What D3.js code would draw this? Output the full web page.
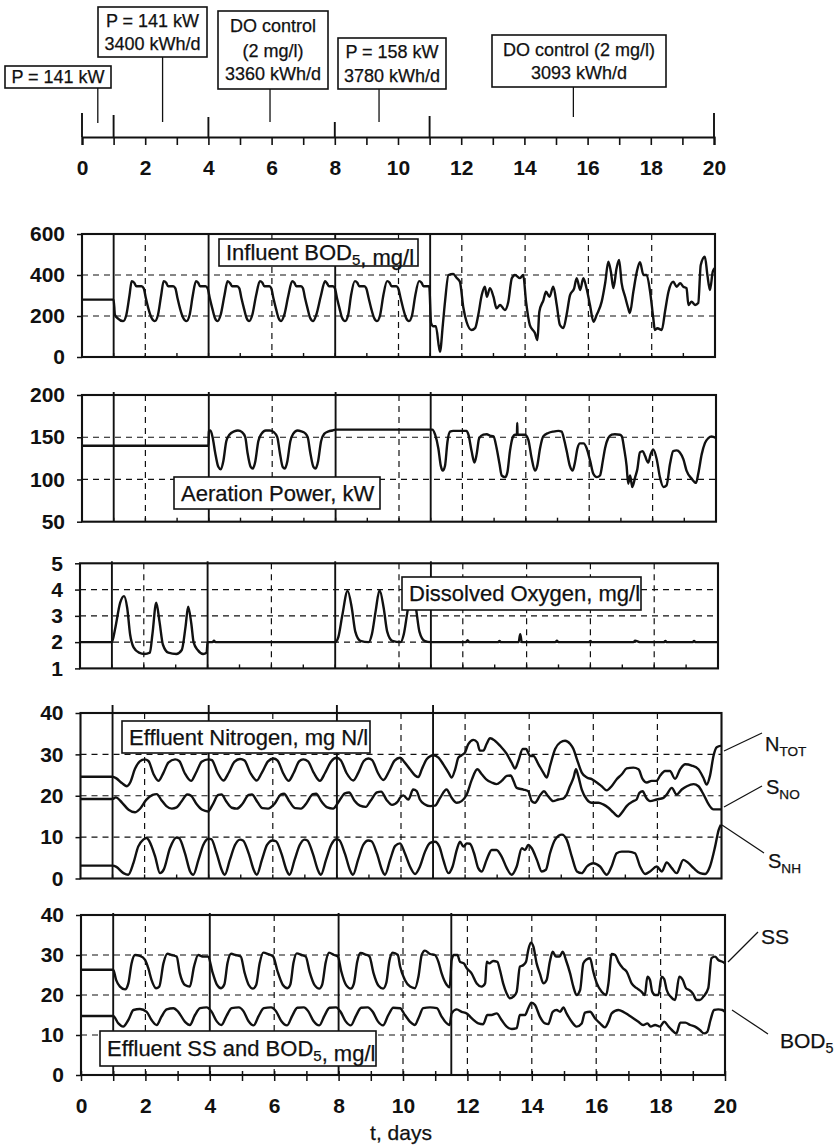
<!DOCTYPE html>
<html><head><meta charset="utf-8">
<script src="https://cdnjs.cloudflare.com/ajax/libs/d3/7.8.5/d3.min.js"></script>
<style>
body{margin:0;background:#fff;}
svg{display:block;}
text{font-family:"Liberation Sans",Arial,Helvetica,sans-serif;fill:#111;}
</style>
</head><body>
<svg id="chart" width="835" height="1145"></svg>
<script>
// ---------------- DATA ----------------
const xTickLabels = [0,2,4,6,8,10,12,14,16,18,20];
const dayTicks = [0,1,2,3,4,5,6,7,8,9,10,11,12,13,14,15,16,17,18,19,20];
const periodBounds = [0,1,4,8,11,20];

const annotations = [
  {t:0.5,  lines:["P = 141 kW"]},
  {t:2.55, lines:["P = 141 kW","3400 kWh/d"]},
  {t:5.95, lines:["DO control","(2 mg/l)","3360 kWh/d"]},
  {t:9.4,  lines:["P = 158 kW","3780 kWh/d"]},
  {t:15.55,lines:["DO control (2 mg/l)","3093 kWh/d"]}
];

const influentBOD = [[0,280],[1,280],[1.04,205],[1.12,190],[1.3,175],[1.4,205],[1.5,300],[1.57,370],[1.65,362],[1.72,345],[1.88,345],[1.95,335],
[2.02,285],[2.1,235],[2.2,190],[2.3,175],[2.4,205],[2.5,300],[2.58,370],[2.66,362],[2.72,345],[2.88,345],[2.95,335],
[3.02,285],[3.1,235],[3.2,190],[3.3,175],[3.4,205],[3.5,300],[3.6,370],[3.67,362],[3.73,345],[3.9,345],[3.97,335],
[4.04,285],[4.12,235],[4.2,190],[4.28,175],[4.38,205],[4.5,300],[4.6,370],[4.68,360],[4.74,345],[4.9,345],[4.97,335],
[5.04,285],[5.12,235],[5.2,190],[5.28,175],[5.38,205],[5.5,300],[5.62,370],[5.7,362],[5.76,345],[5.92,345],[5.98,335],
[6.05,285],[6.13,235],[6.21,190],[6.29,175],[6.39,205],[6.52,300],[6.64,370],[6.71,362],[6.77,345],[6.92,345],[6.98,335],
[7.05,285],[7.13,235],[7.21,190],[7.3,175],[7.4,205],[7.55,300],[7.68,370],[7.74,360],[7.8,345],[7.93,345],[7.99,335],
[8.06,285],[8.14,235],[8.22,190],[8.31,175],[8.41,205],[8.5,300],[8.62,370],[8.7,362],[8.76,345],[8.92,345],[8.98,335],
[9.06,285],[9.14,235],[9.23,190],[9.32,175],[9.42,205],[9.52,300],[9.64,370],[9.72,362],[9.78,345],[9.93,345],[9.99,335],
[10.07,285],[10.15,235],[10.24,190],[10.33,175],[10.43,205],[10.53,300],[10.65,370],[10.73,362],[10.79,345],[10.97,345],
[11.03,165],[11.1,150],[11.18,150],[11.31,25],[11.4,156],[11.47,270],[11.58,400],[11.73,405],[11.84,385],[11.94,367],[12.05,240],[12.15,172],[12.31,132],[12.42,141],[12.52,205],[12.63,302],[12.73,343],[12.79,294],[12.89,336],[13.0,294],[13.1,237],[13.21,254],[13.36,229],[13.47,270],[13.58,384],[13.68,400],[13.84,385],[13.94,400],[14.03,270],[14.15,156],[14.31,117],[14.39,83],[14.45,221],[14.58,278],[14.66,318],[14.77,294],[14.89,343],[15.0,254],[15.1,156],[15.21,141],[15.31,205],[15.42,302],[15.55,335],[15.63,385],[15.74,327],[15.84,384],[15.94,335],[16.05,254],[16.16,172],[16.26,205],[16.42,270],[16.53,361],[16.63,465],[16.71,416],[16.79,336],[16.89,433],[16.97,473],[17.05,360],[17.16,294],[17.26,237],[17.31,215],[17.42,318],[17.53,416],[17.63,462],[17.74,400],[17.84,400],[17.95,318],[18.05,189],[18.1,132],[18.18,140],[18.32,132],[18.42,221],[18.53,318],[18.68,367],[18.79,343],[18.9,360],[19.0,343],[19.1,336],[19.16,254],[19.26,270],[19.37,254],[19.47,263],[19.55,449],[19.68,489],[19.76,400],[19.84,327],[19.93,416],[20,434]];

const aerationPower = [[0,140],[3.99,140],[4.0,157],[4.05,158],[4.12,150],[4.2,132],[4.3,115],[4.38,112],[4.46,122],[4.55,145],[4.65,153],[4.8,157],[4.92,158],
[5.05,156],[5.15,150],[5.22,132],[5.32,115],[5.39,113],[5.47,122],[5.56,145],[5.66,154],[5.8,158],[5.92,158],
[6.05,156],[6.16,150],[6.24,132],[6.33,115],[6.4,113],[6.48,122],[6.57,145],[6.66,154],[6.8,158],[6.92,157],
[7.03,155],[7.12,150],[7.2,132],[7.3,115],[7.37,113],[7.45,122],[7.54,145],[7.64,154],[7.78,157],[7.9,158],[8.0,159],[11.05,159],
[11.14,153],[11.24,137],[11.32,116],[11.38,110.5],[11.45,116],[11.53,145],[11.61,156.7],[11.71,157.5],[12.13,157.5],[12.19,153],[12.29,133.6],[12.38,120],[12.45,130],[12.53,149],[12.66,153],[12.77,153.6],[12.87,152],[12.98,151],[13.08,137],[13.17,118.5],[13.24,104.7],[13.35,102.8],[13.42,108.6],[13.5,133.6],[13.58,149],[13.66,153],[13.72,153],[13.73,167],[13.74,153],[13.87,153],[13.97,153],[14.08,147],[14.18,126],[14.29,110.5],[14.36,116],[14.45,137],[14.55,151],[14.71,155],[14.87,156.7],[15.03,157.5],[15.13,156.7],[15.21,147],[15.29,133.6],[15.39,116],[15.48,110.5],[15.55,120],[15.63,137],[15.71,142.7],[15.82,142.7],[15.92,137],[16.03,122],[16.13,106.7],[16.24,102.8],[16.34,104.7],[16.43,122],[16.5,137],[16.6,149],[16.71,153],[16.81,153.6],[16.97,153],[17.03,151],[17.1,137],[17.18,116],[17.23,95],[17.29,104.7],[17.36,91],[17.45,102.8],[17.52,112.5],[17.6,132],[17.69,133.6],[17.76,128],[17.86,120],[17.94,130],[18.02,135.6],[18.13,124],[18.23,102.8],[18.34,91],[18.44,93],[18.55,118.5],[18.65,133.6],[18.76,134.4],[18.86,132],[18.97,124],[19.07,110.5],[19.23,101],[19.37,96],[19.44,106.7],[19.55,130],[19.65,143],[19.76,149],[19.86,151],[20,149]];

const dissolvedOxygen = [[0,2],[1,2],[1.1,2.5],[1.26,3.5],[1.38,3.75],[1.48,3.3],[1.57,2.3],[1.68,1.8],[1.85,1.6],[2.02,1.55],[2.19,1.6],[2.27,2.3],[2.39,3.5],[2.49,2.8],[2.6,1.9],[2.77,1.6],[3.02,1.55],[3.19,1.7],[3.31,2.6],[3.39,3.35],[3.49,2.7],[3.56,2.0],[3.69,1.7],[3.86,1.55],[3.97,1.6],[4.0,2.0],[4.15,2.0],[4.2,2.05],[4.25,2.0],[8.0,2.0],[8.1,2.2],[8.22,3.0],[8.39,3.95],[8.52,3.3],[8.63,2.4],[8.79,2.05],[9.05,2.0],[9.15,2.3],[9.27,3.2],[9.39,3.98],[9.52,3.3],[9.63,2.4],[9.79,2.05],[10.05,2.0],[10.15,2.3],[10.27,3.2],[10.4,4.0],[10.53,3.3],[10.64,2.4],[10.8,2.05],[11.0,2.0],[12.1,2.0],[12.15,2.07],[12.2,2.0],[13.1,2.0],[13.15,2.04],[13.2,2.0],[13.75,2.0],[13.8,2.3],[13.85,2.0],[14.9,2.0],[14.95,2.05],[15.0,2.0],[15.95,2.0],[16.0,2.04],[16.05,2.0],[17.35,2.0],[17.4,2.05],[17.5,2.02],[17.55,2.0],[18.3,2.0],[18.35,2.04],[18.4,2.0],[19.2,2.0],[19.25,2.04],[19.3,2.0],[20,2.0]];

const nTot = [[0,24.6],[1,24.6],[1.12,24.2],[1.3,23],[1.45,22.3],[1.55,23.2],[1.7,26.5],[1.85,28.3],[2.0,28.8],[2.12,28.4],[2.28,25.2],[2.43,23.6],[2.59,25.6],[2.74,28.0],[2.95,28.8],[3.08,28.4],[3.25,25.5],[3.45,23.6],[3.6,25.5],[3.78,28.2],[3.99,28.8],[4.1,28.6],[4.28,25.5],[4.46,23.7],[4.62,25.5],[4.8,28.2],[4.98,28.9],[5.12,28.5],[5.3,25.5],[5.5,23.7],[5.66,25.6],[5.85,28.3],[6.02,29.0],[6.15,28.5],[6.32,25.5],[6.49,23.6],[6.65,25.5],[6.82,28.3],[6.95,28.8],[7.1,28.3],[7.28,25.5],[7.47,23.6],[7.63,25.5],[7.82,28.3],[7.99,29.2],[8.12,28.6],[8.3,25.5],[8.51,23.7],[8.67,25.6],[8.84,28.4],[8.98,29.0],[9.1,28.6],[9.28,25.5],[9.45,23.8],[9.62,25.8],[9.8,28.5],[9.97,29.2],[10.12,28.0],[10.28,26.4],[10.44,24.9],[10.54,24.5],[10.65,26.4],[10.8,28.8],[11.01,29.8],[11.17,29.2],[11.32,27.6],[11.48,25.6],[11.58,24.4],[11.69,26.4],[11.79,29.2],[11.89,29.8],[12.0,30.5],[12.1,32.5],[12.26,33.5],[12.38,32.9],[12.46,30.9],[12.57,30.9],[12.67,32.5],[12.78,33.9],[12.93,33.3],[13.09,32.1],[13.3,30.1],[13.45,28.0],[13.56,26.6],[13.66,28.4],[13.8,31.3],[13.9,31.3],[14.03,29.6],[14.13,29.6],[14.29,27.6],[14.44,25.6],[14.55,24.4],[14.65,27.2],[14.81,31.3],[14.97,32.9],[15.12,33.3],[15.28,32.5],[15.38,31.3],[15.49,28.8],[15.64,25.6],[15.8,24.4],[15.95,24.0],[16.11,23.2],[16.26,22.3],[16.42,21.3],[16.57,22.3],[16.73,24.0],[16.89,25.2],[17.04,26.6],[17.25,26.8],[17.41,26.4],[17.54,24.0],[17.67,23.2],[17.82,23.6],[17.98,23.6],[18.08,24.8],[18.24,26.0],[18.39,26.0],[18.55,24.1],[18.71,26.4],[18.87,27.6],[19.07,27.3],[19.28,26.4],[19.43,24.4],[19.54,22.7],[19.64,24.8],[19.75,29.6],[19.85,31.7],[20,32.1]];

const sNO = [[0,19.2],[1.0,19.2],[1.1,19.6],[1.3,18.3],[1.5,16.6],[1.7,16.0],[1.85,16.8],[2.05,19.0],[2.25,20.2],[2.38,20.4],[2.52,19.0],[2.68,17.5],[2.85,16.9],[3.0,17.2],[3.15,18.6],[3.33,20.3],[3.45,20.0],[3.62,18.0],[3.8,16.6],[3.98,16.2],[4.12,17.8],[4.3,20.2],[4.4,20.3],[4.55,18.6],[4.72,17.1],[4.88,16.9],[5.05,18.0],[5.25,20.2],[5.35,20.3],[5.52,18.5],[5.68,17.0],[5.85,16.9],[6.05,18.0],[6.25,20.3],[6.35,20.5],[6.52,18.6],[6.7,17.0],[6.88,16.9],[7.05,18.2],[7.25,20.4],[7.35,20.5],[7.52,18.6],[7.7,17.2],[7.88,16.9],[8.05,18.5],[8.25,20.6],[8.38,20.8],[8.55,18.8],[8.72,17.6],[8.9,17.3],[9.05,18.8],[9.25,20.8],[9.38,21.0],[9.55,19.0],[9.72,17.8],[9.9,18.6],[9.97,19.5],[10.07,20.1],[10.23,19.1],[10.38,21.5],[10.49,21.1],[10.59,19.1],[10.75,17.9],[10.91,17.5],[11.06,17.6],[11.22,19.5],[11.42,21.5],[11.58,19.5],[11.74,18.3],[11.89,18.7],[12.05,20.3],[12.21,23.9],[12.38,26.4],[12.52,25.2],[12.67,23.9],[12.83,23.2],[12.98,22.8],[13.14,23.6],[13.3,24.8],[13.42,24.9],[13.51,23.6],[13.61,21.9],[13.82,21.5],[13.97,21.1],[14.08,18.7],[14.18,18.3],[14.34,20.1],[14.46,21.1],[14.59,19.9],[14.75,18.7],[14.91,19.1],[15.06,19.3],[15.17,20.3],[15.27,22.3],[15.38,24.3],[15.46,26.4],[15.53,24.8],[15.64,21.5],[15.8,19.1],[15.95,18.3],[16.16,18.3],[16.31,17.9],[16.47,17.1],[16.63,15.9],[16.78,15.0],[16.89,15.9],[17.04,17.5],[17.25,18.7],[17.35,19.1],[17.44,20.7],[17.54,21.1],[17.65,19.5],[17.77,18.7],[17.98,19.1],[18.19,19.5],[18.29,20.3],[18.45,21.9],[18.6,20.3],[18.76,21.5],[18.92,22.3],[19.13,22.8],[19.28,22.3],[19.44,20.3],[19.6,17.9],[19.75,16.7],[20,16.7]];

const sNH = [[0,3.1],[1,3.1],[1.12,2.8],[1.34,1.3],[1.49,0.9],[1.65,3.7],[1.8,7.7],[1.96,9.4],[2.06,9.8],[2.15,9.0],[2.33,5.3],[2.48,1.3],[2.6,2.2],[2.79,7.3],[3.0,9.9],[3.08,9.7],[3.26,6.1],[3.42,1.7],[3.52,0.9],[3.68,4.5],[3.83,8.1],[3.99,9.6],[4.08,9.5],[4.25,6.0],[4.42,1.8],[4.5,0.9],[4.66,4.5],[4.82,8.1],[4.98,9.4],[5.07,9.2],[5.25,6.0],[5.42,1.8],[5.5,0.9],[5.66,4.5],[5.82,8.1],[5.99,9.2],[6.1,9.0],[6.27,6.0],[6.44,1.8],[6.52,0.9],[6.68,4.5],[6.84,8.1],[6.99,9.4],[7.08,9.2],[7.25,6.0],[7.42,1.8],[7.5,0.9],[7.66,4.5],[7.82,8.1],[7.98,9.5],[8.07,9.3],[8.25,6.0],[8.42,1.8],[8.5,0.9],[8.66,4.5],[8.82,8.1],[8.98,9.2],[9.08,9.0],[9.25,6.0],[9.42,1.8],[9.5,0.9],[9.66,4.5],[9.82,7.9],[9.97,8.5],[10.12,6.1],[10.28,2.9],[10.44,1.1],[10.59,2.9],[10.75,6.5],[10.91,8.6],[11.06,8.9],[11.2,7.7],[11.32,4.5],[11.48,1.3],[11.61,2.9],[11.74,6.9],[11.84,8.9],[11.95,7.7],[12.05,8.5],[12.15,8.4],[12.28,6.1],[12.41,2.5],[12.52,1.7],[12.67,4.5],[12.83,6.9],[12.98,6.9],[13.14,5.3],[13.3,2.5],[13.45,0.9],[13.61,2.9],[13.77,7.3],[13.87,6.9],[13.97,8.1],[14.08,7.3],[14.24,4.5],[14.39,1.7],[14.52,2.1],[14.65,6.1],[14.81,9.4],[15.02,10.6],[15.17,9.4],[15.33,5.3],[15.49,1.7],[15.64,1.3],[15.8,2.9],[16.0,3.7],[16.21,2.9],[16.42,0.9],[16.57,2.9],[16.73,6.1],[16.89,6.5],[17.1,6.5],[17.3,6.1],[17.46,2.9],[17.62,1.1],[17.77,1.7],[17.98,2.9],[18.14,1.7],[18.29,3.9],[18.45,2.5],[18.6,1.3],[18.81,4.5],[18.97,3.7],[19.13,2.5],[19.33,1.3],[19.49,1.1],[19.64,2.9],[19.8,7.7],[19.91,11.7],[19.98,13.0]];

const effluentSS = [[0,26.3],[1.0,26.3],[1.09,23.8],[1.21,22.1],[1.37,21.4],[1.47,22.9],[1.57,27.9],[1.68,30.0],[1.83,29.8],[1.99,28.8],[2.09,26.7],[2.19,23.8],[2.33,21.7],[2.43,22.1],[2.56,27.9],[2.68,30.3],[2.82,30.0],[2.97,29.6],[3.07,25.4],[3.23,22.5],[3.38,22.1],[3.51,27.1],[3.64,30.0],[3.8,29.6],[3.95,29.6],[4.08,25.8],[4.22,22.6],[4.35,21.7],[4.45,22.6],[4.55,28.0],[4.66,30.3],[4.8,30.0],[4.96,29.6],[5.08,25.6],[5.21,22.5],[5.34,21.6],[5.44,22.5],[5.55,28.0],[5.66,30.6],[5.82,30.2],[5.97,29.6],[6.1,26.0],[6.27,22.5],[6.41,21.7],[6.5,22.6],[6.6,28.1],[6.7,30.4],[6.85,30.0],[6.98,29.6],[7.1,25.8],[7.26,22.4],[7.4,21.6],[7.49,22.6],[7.6,28.2],[7.7,30.6],[7.86,30.0],[7.98,29.6],[8.08,26.0],[8.24,22.4],[8.38,21.6],[8.47,22.7],[8.58,28.4],[8.68,30.5],[8.84,30.1],[8.96,29.6],[9.08,25.6],[9.24,22.3],[9.38,21.6],[9.48,23.0],[9.58,28.6],[9.68,30.6],[9.84,30.0],[9.91,27.1],[10.06,23.75],[10.22,22.1],[10.37,21.7],[10.48,24.6],[10.58,30.0],[10.68,31.1],[10.84,30.25],[10.99,30.0],[11.1,28.3],[11.2,25.4],[11.36,22.5],[11.45,21.9],[11.51,28.75],[11.58,30.0],[11.69,30.0],[11.77,28.3],[11.89,27.9],[11.98,26.7],[12.13,25.4],[12.29,22.9],[12.44,22.1],[12.55,22.9],[12.6,28.3],[12.68,27.9],[12.8,28.5],[12.93,28.3],[13.01,26.25],[13.11,22.9],[13.22,20.4],[13.32,19.2],[13.43,19.6],[13.53,20.8],[13.63,27.1],[13.74,27.5],[13.82,28.3],[13.89,31.25],[13.97,33.1],[14.05,32.1],[14.15,27.9],[14.25,25.4],[14.36,22.9],[14.46,23.75],[14.56,28.3],[14.65,30.8],[14.75,29.6],[14.86,29.6],[14.96,30.8],[15.06,28.75],[15.19,25.4],[15.29,22.1],[15.39,20.0],[15.5,21.25],[15.6,27.9],[15.7,28.9],[15.81,29.2],[15.91,25.8],[16.02,22.9],[16.17,20.8],[16.31,20.0],[16.38,22.9],[16.48,30.25],[16.59,30.0],[16.69,28.3],[16.83,26.7],[16.95,25.8],[17.1,22.9],[17.26,21.7],[17.41,20.8],[17.51,20.0],[17.59,24.6],[17.67,23.75],[17.74,20.8],[17.83,20.0],[17.93,20.0],[18.03,24.6],[18.11,24.0],[18.19,21.25],[18.31,19.6],[18.45,18.75],[18.58,24.6],[18.69,23.75],[18.79,21.7],[18.89,21.25],[19.0,20.4],[19.12,18.75],[19.22,18.75],[19.33,19.6],[19.48,21.7],[19.58,29.2],[19.69,29.6],[19.79,28.75],[19.92,28.3],[20,27.9]];

const effluentBOD = [[0,14.75],[1.0,14.75],[1.16,12.9],[1.31,12.1],[1.47,13.75],[1.63,16.25],[1.83,16.5],[2.04,15.8],[2.19,13.75],[2.35,12.5],[2.5,14.6],[2.66,16.4],[2.87,16.7],[3.02,15.8],[3.23,13.3],[3.38,12.5],[3.54,15.0],[3.7,16.7],[3.9,16.9],[4.05,15.9],[4.2,13.6],[4.36,12.5],[4.52,14.8],[4.68,16.7],[4.9,16.9],[5.05,15.9],[5.2,13.5],[5.36,12.4],[5.52,14.8],[5.68,16.7],[5.9,16.9],[6.06,15.9],[6.22,13.5],[6.4,12.4],[6.56,14.8],[6.72,16.8],[6.92,16.9],[7.06,15.9],[7.22,13.5],[7.4,12.4],[7.56,14.8],[7.72,16.8],[7.92,16.9],[8.06,15.8],[8.22,13.4],[8.38,12.4],[8.54,14.8],[8.7,16.8],[8.9,16.9],[9.06,15.8],[9.22,13.4],[9.38,12.4],[9.54,14.9],[9.7,16.8],[9.91,16.7],[10.06,15.0],[10.22,13.3],[10.37,12.5],[10.48,14.2],[10.63,16.7],[10.84,16.9],[11.05,16.7],[11.2,14.6],[11.36,12.9],[11.45,12.5],[11.51,15.4],[11.67,16.4],[11.82,15.8],[11.98,15.4],[12.13,14.2],[12.34,12.9],[12.49,12.7],[12.62,15.0],[12.75,15.0],[12.91,15.4],[13.06,13.75],[13.22,12.1],[13.38,11.5],[13.53,11.7],[13.63,15.0],[13.79,15.0],[13.89,16.7],[13.99,18.1],[14.1,17.5],[14.25,14.6],[14.41,12.9],[14.51,12.75],[14.65,15.8],[14.77,16.25],[14.88,15.8],[14.98,16.9],[15.08,15.4],[15.24,13.3],[15.39,12.1],[15.55,12.9],[15.65,15.6],[15.81,15.8],[15.96,14.2],[16.12,12.9],[16.27,11.9],[16.38,13.3],[16.48,15.4],[16.69,16.25],[16.84,15.8],[17.0,15.0],[17.15,14.2],[17.31,13.3],[17.46,12.5],[17.59,12.9],[17.69,12.1],[17.83,12.5],[17.98,12.1],[18.11,13.3],[18.25,12.1],[18.35,11.25],[18.49,10.4],[18.61,13.1],[18.77,13.1],[18.92,12.5],[19.07,12.1],[19.22,11.25],[19.35,10.4],[19.45,10.8],[19.55,13.75],[19.66,16.25],[19.79,16.4],[19.92,16.25],[20,15.8]];

// ---------------- DRAWING ----------------
const svg = d3.select("#chart");
svg.append("rect").attr("width",835).attr("height",1145).attr("fill","#fff");
const INK = "#111";
const LBL_FONT = "'Liberation Sans',Arial,sans-serif";

// Top timeline
(function(){
  const x = d3.scaleLinear().domain([0,20]).range([82,714]);
  const yAx = 137;
  const g = svg.append("g");
  const ax = g.append("g").attr("transform",`translate(0,${yAx})`)
    .call(d3.axisBottom(x).tickValues(dayTicks).tickSize(8).tickPadding(15)
      .tickFormat(d => xTickLabels.includes(d) ? d : ""));
  ax.select(".domain").attr("stroke",INK).attr("stroke-width",2.2);
  ax.selectAll(".tick line").attr("stroke",INK).attr("stroke-width",1.6);
  ax.selectAll(".tick text").attr("font-size",21).attr("font-weight","bold")
    .attr("font-family",LBL_FONT).attr("fill",INK);
  const boundTop = {0:113,1:115,4:117,8:122,11:116,20:113};
  g.selectAll("line.bound").data(periodBounds).join("line")
    .attr("x1",d=>x(d)).attr("x2",d=>x(d)).attr("y1",d=>boundTop[d]).attr("y2",yAx)
    .attr("stroke",INK).attr("stroke-width",1.9);
  const boxes = [
    {x:5,y:66,w:106,h:22,base:[83],end:123},
    {x:98,y:7,w:109,h:50,base:[27,50],end:122},
    {x:218,y:11,w:110,h:78,base:[32,57,80],end:122},
    {x:338,y:38,w:108,h:51,base:[58,82],end:122},
    {x:492,y:35,w:174,h:52,base:[56,79],end:117}
  ];
  annotations.forEach((a,i)=>{
    const b = boxes[i];
    g.append("line").attr("x1",x(a.t)).attr("x2",x(a.t)).attr("y1",b.y+b.h).attr("y2",b.end)
      .attr("stroke",INK).attr("stroke-width",1.3);
    g.append("rect").attr("x",b.x).attr("y",b.y).attr("width",b.w).attr("height",b.h)
      .attr("fill","#fff").attr("stroke",INK).attr("stroke-width",1.6);
    a.lines.forEach((ln,j)=>{
      g.append("text").attr("x",b.x+b.w/2).attr("y",b.base[j]).attr("text-anchor","middle")
        .attr("font-size",18).attr("stroke",INK).attr("stroke-width",0.25).text(ln);
    });
  });
})();

function addTitle(g, p){
  const b = p.box;
  g.append("rect").attr("x",b.x).attr("y",b.y).attr("width",b.w).attr("height",b.h)
    .attr("fill","#fff").attr("stroke",INK).attr("stroke-width",1.6);
  const t = g.append("text").attr("x",b.x+7).attr("y",b.base).attr("font-size",22)
    .attr("stroke",INK).attr("stroke-width",0.25);
  p.title.forEach(seg=>{
    if(seg.sub){ t.append("tspan").attr("font-size",15).attr("dy",5).text(seg.s);
                 t.append("tspan").attr("font-size",22).attr("dy",-5).text(""); }
    else t.append("tspan").text(seg.s);
  });
}

function drawPanel(p){
  const x = d3.scaleLinear().domain([0,20]).range([p.x0,p.x1]);
  const y = d3.scaleLinear().domain(p.dom).range([p.yb,p.yt]);
  const g = svg.append("g");
  const dash = "6,5";
  g.selectAll("line.hg").data(p.ticks.filter(v=>v>p.dom[0]&&v<p.dom[1])).join("line")
    .attr("x1",p.x0).attr("x2",p.x1).attr("y1",d=>y(d)).attr("y2",d=>y(d))
    .attr("stroke",INK).attr("stroke-width",1.2).attr("stroke-dasharray",dash);
  const vd = xTickLabels.filter(d=>d>0&&d<20&&!p.solids.includes(d));
  g.selectAll("line.vg").data(vd).join("line")
    .attr("x1",d=>x(d)).attr("x2",d=>x(d)).attr("y1",p.yt).attr("y2",p.yb)
    .attr("stroke",INK).attr("stroke-width",1.2).attr("stroke-dasharray",dash);
  const line = d3.line().x(d=>x(d[0])).y(d=>y(d[1])).curve(d3.curveMonotoneX);
  p.series.forEach(s=>{
    g.append("path").datum(s).attr("d",line).attr("fill","none")
      .attr("stroke",INK).attr("stroke-width",2.4).attr("stroke-linejoin","round");
  });
  g.selectAll("line.sv").data(p.solids).join("line")
    .attr("x1",d=>x(d)).attr("x2",d=>x(d)).attr("y1",p.yt-(p.ext||0)).attr("y2",p.yb)
    .attr("stroke",INK).attr("stroke-width",1.9);
  if(!p.xLabels){
    g.selectAll("line.dt").data(dayTicks.filter(d=>d>0&&d<20)).join("line")
      .attr("x1",d=>x(d)).attr("x2",d=>x(d)).attr("y1",p.yb-4).attr("y2",p.yb)
      .attr("stroke",INK).attr("stroke-width",1.4);
  } else {
    const ax = g.append("g").attr("transform",`translate(0,${p.yb})`)
      .call(d3.axisBottom(x).tickValues(dayTicks).tickSize(6).tickPadding(17)
        .tickFormat(d => xTickLabels.includes(d) ? d : ""));
    ax.select(".domain").remove();
    ax.selectAll(".tick line").attr("stroke",INK).attr("stroke-width",1.5).attr("y1",-4);
    ax.selectAll(".tick text").attr("font-size",21).attr("font-weight","bold")
      .attr("font-family",LBL_FONT).attr("fill",INK);
  }
  g.append("rect").attr("x",p.x0).attr("y",p.yt).attr("width",p.x1-p.x0).attr("height",p.yb-p.yt)
    .attr("fill","none").attr("stroke",INK).attr("stroke-width",2.1);
  const ay = g.append("g").attr("transform",`translate(${p.x0},0)`)
    .call(d3.axisLeft(y).tickValues(p.ticks).tickSize(5).tickPadding(12).tickFormat(d3.format("d")));
  ay.select(".domain").remove();
  ay.selectAll(".tick line").attr("stroke",INK).attr("stroke-width",1.5);
  ay.selectAll(".tick text").attr("font-size",21).attr("font-weight","bold")
    .attr("font-family",LBL_FONT).attr("fill",INK);
  addTitle(g,p);
  return {x,y,g};
}

drawPanel({x0:82,x1:715,yt:234,yb:357,dom:[0,600],ticks:[0,200,400,600],solids:[1,4,8,11],
  series:[influentBOD], box:{x:219,y:239,w:199,h:27,base:260},
  title:[{s:"Influent BOD"},{s:"5",sub:true},{s:", mg/l"}]});
drawPanel({x0:82,x1:716,yt:395,yb:521.7,dom:[50,200],ticks:[50,100,150,200],solids:[1,4,8,11],ext:3,
  series:[aerationPower], box:{x:174,y:477,w:206,h:32,base:501},
  title:[{s:"Aeration Power, kW"}]});
drawPanel({x0:80,x1:718,yt:563.3,yb:668.4,dom:[1,5],ticks:[1,2,3,4,5],solids:[1,4,8,11],ext:2,
  series:[dissolvedOxygen], box:{x:402,y:577,w:239,h:33,base:601},
  title:[{s:"Dissolved Oxygen, mg/l"}]});
drawPanel({x0:80.5,x1:721.5,yt:713,yb:878.5,dom:[0,40],ticks:[0,10,20,30,40],solids:[1,4,8,11],ext:8,
  series:[nTot,sNO,sNH], box:{x:122,y:721,w:248,h:32,base:745},
  title:[{s:"Effluent Nitrogen, mg N/l"}]});
drawPanel({x0:81,x1:725,yt:915,yb:1075,dom:[0,40],ticks:[0,10,20,30,40],solids:[1,4,8,11.5],ext:2,xLabels:true,
  series:[effluentSS,effluentBOD], box:{x:100,y:1031,w:276,h:35,base:1056},
  title:[{s:"Effluent SS and BOD"},{s:"5",sub:true},{s:", mg/l"}]});

svg.append("text").attr("x",401).attr("y",1140).attr("text-anchor","middle").attr("font-size",21)
  .attr("stroke",INK).attr("stroke-width",0.25).text("t, days");

const leaders = [
  {x1:724,y1:751,x2:762,y2:733},
  {x1:724,y1:807,x2:762,y2:786},
  {x1:722,y1:825,x2:764,y2:853},
  {x1:728,y1:962,x2:758,y2:932},
  {x1:732,y1:1010,x2:768,y2:1034}
];
svg.selectAll("line.ld").data(leaders).join("line")
  .attr("x1",d=>d.x1).attr("y1",d=>d.y1).attr("x2",d=>d.x2).attr("y2",d=>d.y2)
  .attr("stroke",INK).attr("stroke-width",1.2);
function subLabel(x,y,main,sub,size){
  const t = svg.append("text").attr("x",x).attr("y",y).attr("font-size",size)
    .attr("stroke",INK).attr("stroke-width",0.25);
  t.append("tspan").text(main);
  if(sub) t.append("tspan").attr("font-size",size*0.68).attr("dy",5).text(sub);
}
subLabel(765,751,"N","TOT",20);
subLabel(766,794,"S","NO",20);
subLabel(768,868,"S","NH",20);
subLabel(761,944,"SS","",21);
subLabel(780,1048,"BOD","5",21);
</script>
</body></html>
